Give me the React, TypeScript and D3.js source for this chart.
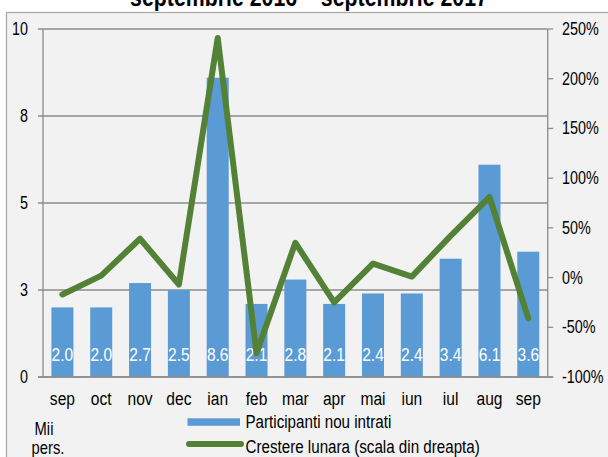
import React, { useEffect, useRef } from 'react';
import * as d3 from 'd3';

const months = ['sep', 'oct', 'nov', 'dec', 'ian', 'feb', 'mar', 'apr', 'mai', 'iun', 'iul', 'aug', 'sep'];
const participants = [2.0, 2.0, 2.7, 2.5, 8.6, 2.1, 2.8, 2.1, 2.4, 2.4, 3.4, 6.1, 3.6];
const monthlyGrowth = [-17, 2, 39, -7, 241, -76, 35, -25, 14, 1, 42, 81, -41];
const leftTicks = [0, 2.5, 5, 7.5, 10];
const leftTickLabels = ['0', '3', '5', '8', '10'];
const rightTicks = [-100, -50, 0, 50, 100, 150, 200, 250];

const title = 'septembrie 2016 – septembrie 2017';
const barName = 'Participanti nou intrati';
const lineName = 'Crestere lunara (scala din dreapta)';

const FONT = '"Liberation Sans", Arial, sans-serif';
const SQUEEZE = 0.82; // narrow look, like Arial Narrow

type Sel = d3.Selection<any, any, any, any>;

// text squeezed horizontally around its anchor point
const addText = (
  g: Sel, x: number, y: number, str: string, size: number,
  anchor = 'start', fill = '#000000', weight = 'normal'
) => {
  g.append('text')
    .attr('transform', `translate(${x},${y}) scale(${SQUEEZE},1)`)
    .attr('text-anchor', anchor)
    .attr('font-size', size)
    .attr('font-weight', weight)
    .attr('fill', fill)
    .text(str);
};

const App = () => {
  const svgRef = useRef<SVGSVGElement>(null);

  useEffect(() => {
    const width = 608;
    const height = 457;
    const left = 43, right = 547.7, top = 29, bottom = 377;

    const svg = d3.select(svgRef.current);
    svg.selectAll('*').remove();
    svg.attr('width', width).attr('height', height).style('font-family', FONT);

    svg.append('rect').attr('width', width).attr('height', height).attr('fill', '#ffffff');
    svg.append('rect')
      .attr('x', 6.5).attr('y', 12.5)
      .attr('width', 620).attr('height', 460)
      .attr('fill', '#f2f2f2')
      .attr('stroke', '#a6a6a6')
      .attr('stroke-width', 1.2);

    addText(svg, 309, 6, title, 26, 'middle', '#000000', 'bold');

    const x = d3.scaleBand<number>()
      .domain(months.map((_, i) => i))
      .range([left, right])
      .paddingInner(0.433)
      .paddingOuter(0.2165);

    const yL = d3.scaleLinear().domain([0, 10]).range([bottom, top]);
    const yR = d3.scaleLinear().domain([-100, 250]).range([bottom, top]);

    const grid = '#8c8c8c';

    // gridlines (left scale)
    leftTicks.forEach((t, i) => {
      svg.append('line')
        .attr('x1', left - 5).attr('x2', right)
        .attr('y1', yL(t)).attr('y2', yL(t))
        .attr('stroke', grid).attr('stroke-width', 1.3);
      addText(svg, 28, yL(t) + 6, leftTickLabels[i], 17.5, 'end');
    });

    // right axis ticks
    rightTicks.forEach(t => {
      svg.append('line')
        .attr('x1', right).attr('x2', right + 5.5)
        .attr('y1', yR(t)).attr('y2', yR(t))
        .attr('stroke', grid).attr('stroke-width', 1.3);
      addText(svg, 562, yR(t) + 6, `${t}%`, 17.5);
    });

    // axis lines
    svg.append('line').attr('x1', left).attr('x2', left).attr('y1', top).attr('y2', bottom)
      .attr('stroke', grid).attr('stroke-width', 1.3);
    svg.append('line').attr('x1', right).attr('x2', right).attr('y1', top).attr('y2', bottom)
      .attr('stroke', grid).attr('stroke-width', 1.3);

    // bars
    svg.append('g').selectAll('rect')
      .data(participants)
      .join('rect')
      .attr('x', (_, i) => x(i)!)
      .attr('y', d => yL(d))
      .attr('width', x.bandwidth())
      .attr('height', d => bottom - yL(d))
      .attr('fill', '#5b9bd5');

    svg.append('line').attr('x1', left - 5).attr('x2', right + 5.5).attr('y1', bottom).attr('y2', bottom)
      .attr('stroke', grid).attr('stroke-width', 1.6);

    // value labels and month labels
    participants.forEach((d, i) => {
      const cx = x(i)! + x.bandwidth() / 2;
      addText(svg, cx, 360.7, d.toFixed(1), 19, 'middle', '#ffffff');
      addText(svg, cx, 405, months[i], 19, 'middle');
    });

    // growth line
    const line = d3.line<number>()
      .x((_, i) => x(i)! + x.bandwidth() / 2)
      .y(d => yR(d));

    svg.append('path')
      .datum(monthlyGrowth)
      .attr('d', line)
      .attr('fill', 'none')
      .attr('stroke', '#538135')
      .attr('stroke-width', 6)
      .attr('stroke-linejoin', 'round')
      .attr('stroke-linecap', 'round');

    // legend
    svg.append('rect')
      .attr('x', 187.5).attr('y', 418.3)
      .attr('width', 52.5).attr('height', 7.5)
      .attr('fill', '#5b9bd5');
    addText(svg, 245.5, 428.3, barName, 18.5);
    svg.append('line')
      .attr('x1', 189).attr('x2', 241)
      .attr('y1', 444).attr('y2', 444)
      .attr('stroke', '#538135')
      .attr('stroke-width', 6)
      .attr('stroke-linecap', 'round');
    addText(svg, 245.5, 453.3, lineName, 18.5);

    addText(svg, 44, 435, 'Mii', 18, 'middle');
    addText(svg, 48, 454, 'pers.', 18, 'middle');
  }, []);

  return (
    <svg ref={svgRef} style={{ position: 'absolute', left: 0, top: 0, display: 'block' }}></svg>
  );
};

export default App;
